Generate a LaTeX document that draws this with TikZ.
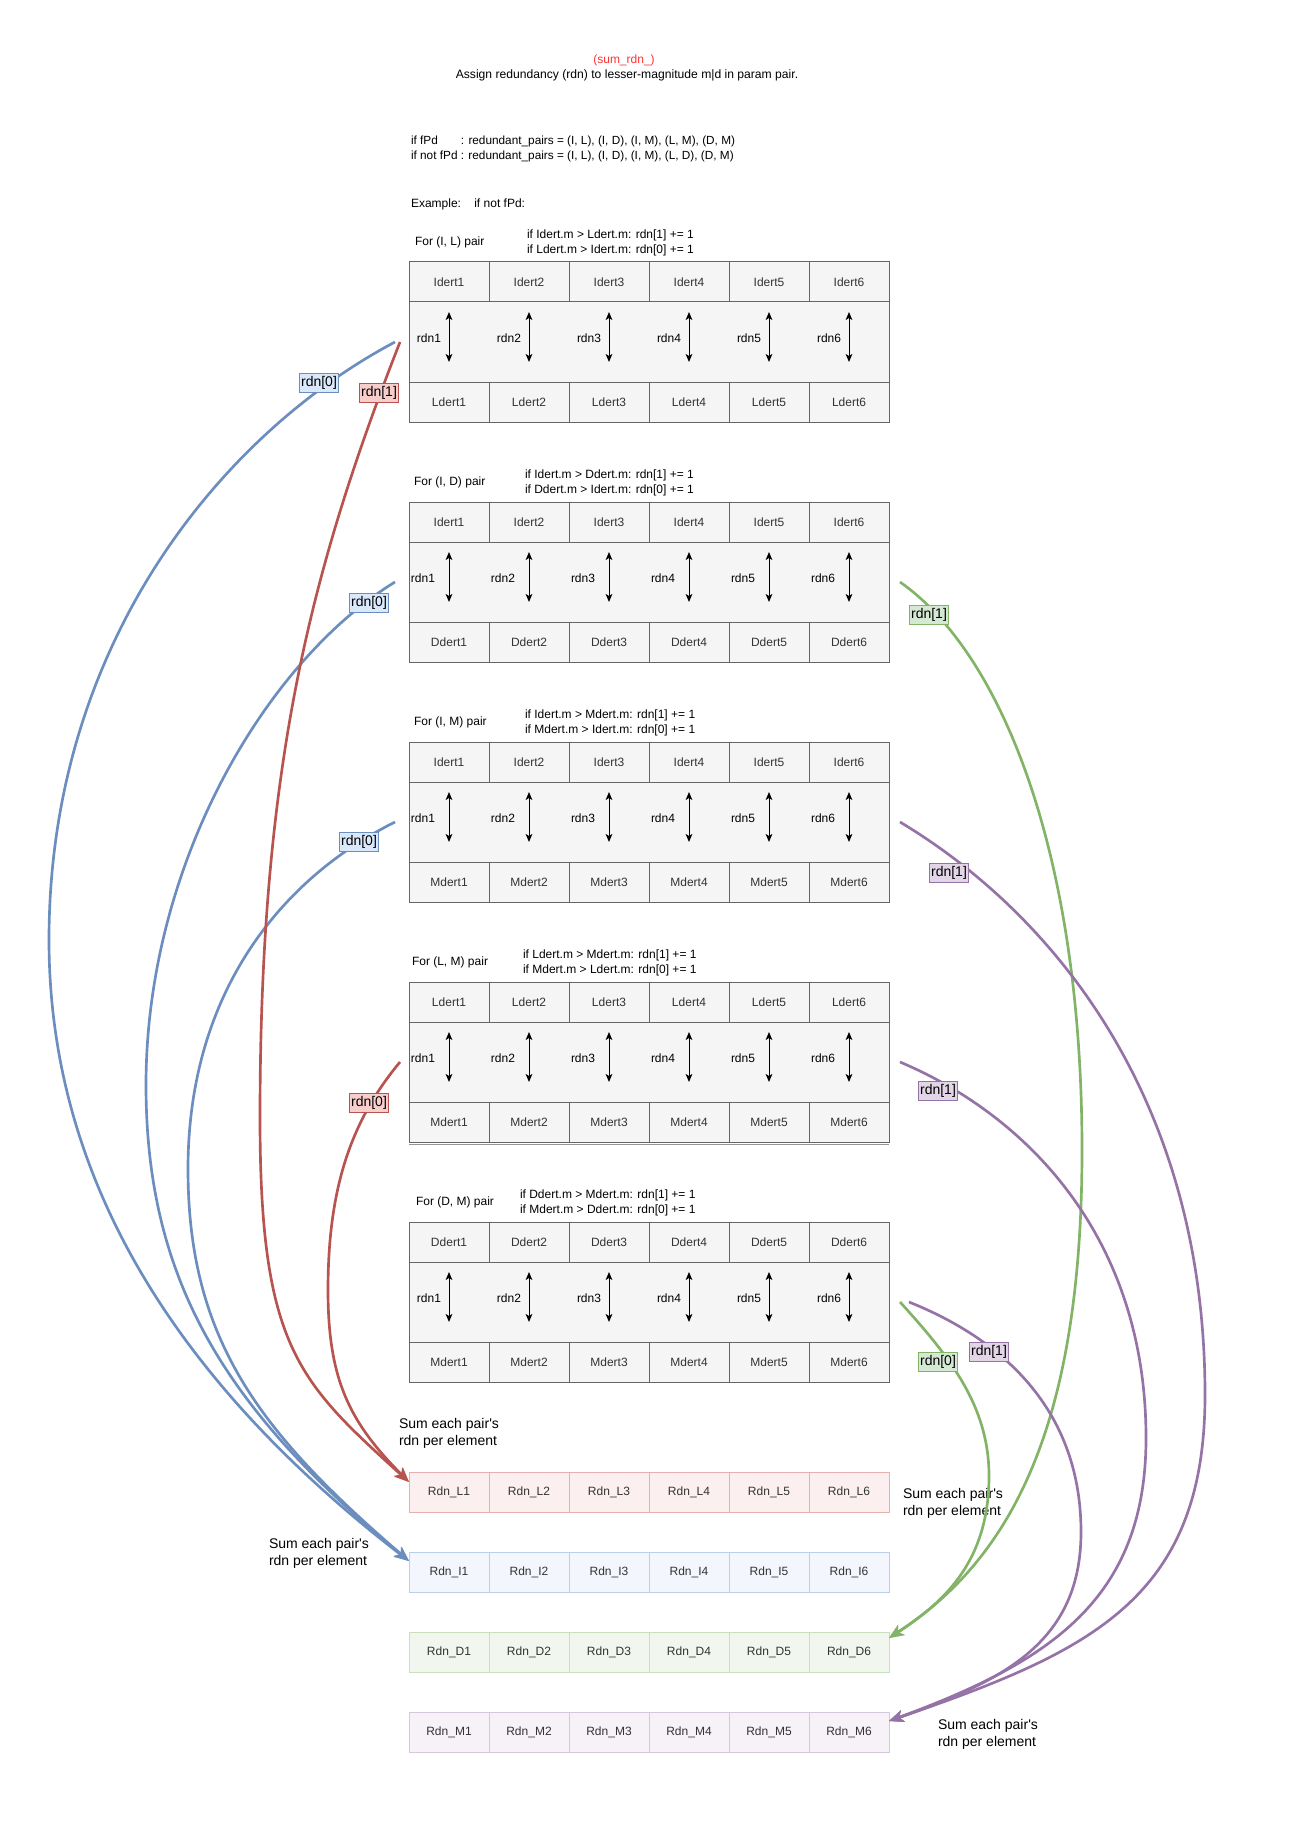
\documentclass[tikz,border=0pt]{standalone}
\usepackage{fontspec}
\newfontfamily\plainfont{Liberation Sans}
\usetikzlibrary{arrows.meta,calc}
\definecolor{cellfill}{HTML}{F5F5F5}
\definecolor{cellline}{HTML}{666666}
\definecolor{celltext}{HTML}{333333}
\definecolor{blueline}{HTML}{6C8EBF}
\definecolor{bluefill}{HTML}{DAE8FC}
\definecolor{redline}{HTML}{B85450}
\definecolor{redfill}{HTML}{F8CECC}
\definecolor{greenline}{HTML}{82B366}
\definecolor{greenfill}{HTML}{D5E8D4}
\definecolor{purpleline}{HTML}{9673A6}
\definecolor{purplefill}{HTML}{E1D5E7}
\definecolor{titlered}{HTML}{FF3333}
\definecolor{sumLfill}{HTML}{FCEFEF}
\definecolor{sumLline}{HTML}{E6B0AE}
\definecolor{sumIfill}{HTML}{F3F7FD}
\definecolor{sumIline}{HTML}{BDCFE8}
\definecolor{sumDfill}{HTML}{F1F7EF}
\definecolor{sumDline}{HTML}{C8E0BD}
\definecolor{sumMfill}{HTML}{F6F2F8}
\definecolor{sumMline}{HTML}{D6C8DC}
\begin{document}
\begin{tikzpicture}[x=0.75pt,y=-0.75pt,
  every node/.style={inner sep=0pt, outer sep=0pt},
  txt/.style={font=\plainfont\fontsize{9}{11.25}\selectfont, anchor=west, align=left},
  bigtxt/.style={font=\plainfont\fontsize{10.5}{12.75}\selectfont, anchor=west, align=left},
  cell/.style={draw=cellline, fill=cellfill, minimum width=60pt, minimum height=30pt,
    font=\plainfont\fontsize{9}{11}\selectfont, text=celltext, line width=0.75pt},
  sumcell/.style={draw=sum#1line, fill=sum#1fill, minimum width=60pt, minimum height=30pt,
    font=\plainfont\fontsize{9}{11}\selectfont, text=celltext, line width=0.75pt},
  midrow/.style={draw=cellline, fill=cellfill, line width=0.75pt},
  dblarrow/.style={line width=0.75pt, {Stealth[length=6pt,width=5pt,inset=1.5pt]}-{Stealth[length=6pt,width=5pt,inset=1.5pt]}},
  curve/.style={draw=#1line, line width=2pt, -{Stealth[length=11pt,width=9pt,inset=3pt]}},
  lbl/.style={draw=#1line, fill=#1fill, font=\plainfont\fontsize{10.5}{12}\selectfont, text=black,
    inner xsep=1.5pt, minimum height=14pt, line width=0.75pt}
]
\useasboundingbox (0,0) rectangle (1288,1840);

% title
\node[font=\plainfont\fontsize{9}{11}\selectfont, text=titlered] (title) at (624,60) {(sum\_rdn\_)};
\node[font=\plainfont\fontsize{9.1}{11}\selectfont] (subtitle) at (627,75) {Assign redundancy (rdn) to lesser-magnitude m|d in param pair.};
\node[txt, font=\plainfont\fontsize{8.85}{11.25}\selectfont] (pairs) at (411,148.5) {\makebox[0pt][l]{if fPd}\phantom{if not fPd} : redundant\_pairs = (I, L), (I, D), (I, M), (L, M), (D, M)\\
if not fPd : redundant\_pairs = (I, L), (I, D), (I, M), (L, D), (D, M)};
\node[txt] (example) at (411,204) {\makebox[47.5pt][l]{Example:}if not fPd:};

% blocks
\foreach \k/\T/\A/\B/\fx/\cx/\ro in {1/262/I/L/415/527/20, 2/502/I/D/414/525/26, 3/742/I/M/414/525/26, 4/982/L/M/412/523/26, 5/1222/D/M/416/520/20}{
  \node[txt] (for\k) at (\fx,\T-19.5) {For (\A, \B) pair};
  \node[txt] (cond\k) at (\cx,\T-19) {if \A dert.m > \B dert.m: rdn[1] += 1\\if \B dert.m > \A dert.m: rdn[0] += 1};
  \draw[midrow] (409,\T+40) rectangle (889,\T+120);
  \coordinate (mid\k) at (649,\T+80);
  \foreach \i in {1,...,6}{
    \node[cell] (b\k t\i) at (369+80*\i,\T+20) {\A dert\i};
    \node[cell] (b\k b\i) at (369+80*\i,\T+140) {\B dert\i};
    \draw[dblarrow] (369+80*\i,\T+50) -- (369+80*\i,\T+100);
    \node[font=\plainfont\fontsize{9}{11}\selectfont] (b\k r\i) at (369+80*\i-\ro,\T+76) {rdn\i};
  }
}
\draw[cellline!70, line width=0.75pt] (409,1144.5) -- (889,1144.5);

% sum rows
\foreach \L/\Y in {L/1492, I/1572, D/1652, M/1732}{
  \foreach \i in {1,...,6}{
    \node[sumcell=\L] (sum\L\i) at (369+80*\i,\Y) {Rdn\_\L\i};
  }
}

% sum captions
\node[bigtxt] (capL) at (399,1433) {Sum each pair's\\rdn per element};
\node[bigtxt] (capI) at (269,1553) {Sum each pair's\\rdn per element};
\node[bigtxt] (capD) at (903,1503.5) {Sum each pair's\\rdn per element};
\node[bigtxt] (capM) at (938,1734) {Sum each pair's\\rdn per element};

% connector start and end points
\coordinate (s1b) at (395,342);
\coordinate (s1r) at (400,342);
\coordinate (s2b) at (395,582);
\coordinate (s3b) at (395,822);
\coordinate (s4r) at (400,1062);
\coordinate (s2g) at (900,582);
\coordinate (s3p) at (900,822);
\coordinate (s4p) at (900,1062);
\coordinate (s5g) at (900,1302);
\coordinate (s5p) at (909,1302);
\coordinate (eL) at ($(sumL1.west)+(0,-10)$);
\coordinate (eI) at ($(sumI1.west)+(0,-11)$);
\coordinate (eD) at ($(sumD6.east)+(0,-14)$);
\coordinate (eM) at ($(sumM6.east)+(0,-11)$);

% blue curves
\draw[curve=blue] (s1b) .. controls (225,432) and (49,640) .. (49,940) .. controls (49,1200) and (200,1400) .. (eI);
\draw[curve=blue] (s2b) .. controls (265,662) and (146,865) .. (146,1085) .. controls (146,1285) and (229,1412) .. (eI);
\draw[curve=blue] (s3b) .. controls (275,882) and (188,999) .. (188,1169) .. controls (188,1339) and (259,1432) .. (eI);
% red curves
\draw[curve=red] (s1r) .. controls (310,572) and (260,768) .. (260,1118) .. controls (260,1348) and (299,1382) .. (eL);
\draw[curve=red] (s4r) .. controls (350,1122) and (328,1190) .. (328,1290) .. controls (328,1379) and (349,1422) .. (eL);
% green curves
\draw[curve=green] (s2g) .. controls (1000,652) and (1082,850) .. (1082,1150) .. controls (1082,1430) and (1009,1560) .. (eD);
\draw[curve=green] (s5g) .. controls (950,1357) and (989,1406) .. (989,1476) .. controls (989,1566) and (939,1605) .. (eD);
% purple curves
\draw[curve=purple] (s3p) .. controls (1050,912) and (1205,1095) .. (1205,1395) .. controls (1205,1600) and (1089,1652) .. (eM);
\draw[curve=purple] (s4p) .. controls (1030,1117) and (1146,1240) .. (1146,1438) .. controls (1146,1600) and (1049,1662) .. (eM);
\draw[curve=purple] (s5p) .. controls (1009,1342) and (1081,1415) .. (1081,1532) .. controls (1081,1645) and (999,1682) .. (eM);

% connector labels
\node[lbl=blue] (l1b) at (319,383) {rdn[0]};
\node[lbl=red] (l1r) at (379,393) {rdn[1]};
\node[lbl=blue] (l2b) at (369,603) {rdn[0]};
\node[lbl=blue] (l3b) at (359,842) {rdn[0]};
\node[lbl=red] (l4r) at (369,1103) {rdn[0]};
\node[lbl=green] (l2g) at (929,615) {rdn[1]};
\node[lbl=purple] (l3p) at (949,873) {rdn[1]};
\node[lbl=purple] (l4p) at (938,1091) {rdn[1]};
\node[lbl=green] (l5g) at (938,1362) {rdn[0]};
\node[lbl=purple] (l5p) at (989,1352) {rdn[1]};
\end{tikzpicture}
\end{document}
